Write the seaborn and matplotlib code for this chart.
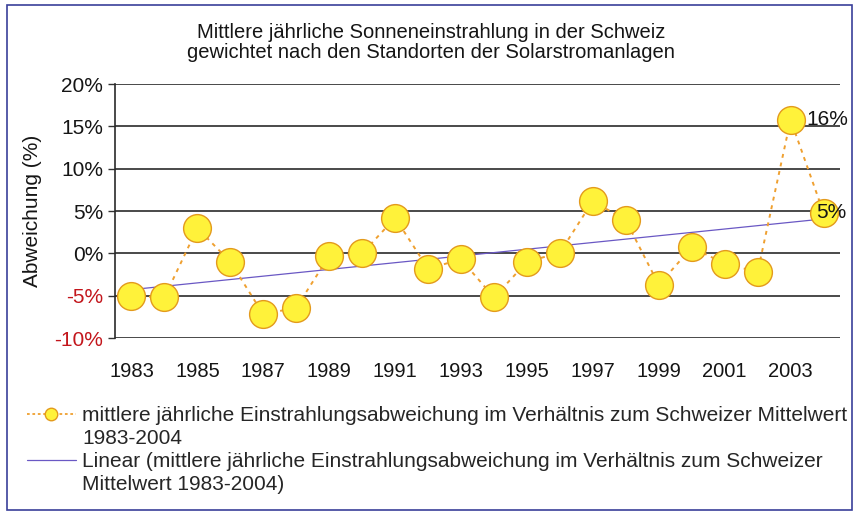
import numpy as np
import pandas as pd
import matplotlib
matplotlib.use("Agg")
import matplotlib.pyplot as plt
import seaborn as sns
from matplotlib.lines import Line2D
from matplotlib.patches import Rectangle

# Jahreswerte (Abweichung in %)
years = list(range(1983, 2005))
deviation = [-5.0, -5.2, 3.0, -1.0, -7.2, -6.4, -0.3, 0.0, 4.2, -1.8, -0.7,
             -5.2, -1.0, 0.1, 6.2, 3.9, -3.7, 0.7, -1.2, -2.2, 15.8, 4.8]
yticks = [-10, -5, 0, 5, 10, 15, 20]
xticks = list(range(1983, 2004, 2))
labels_end = {2003: "16%", 2004: "5%"}

title_1 = "Mittlere jährliche Sonneneinstrahlung in der Schweiz"
title_2 = "gewichtet nach den Standorten der Solarstromanlagen"
# Legendentexte, zeilenweise (wie im Original umbrochen)
lbl_series = ["mittlere jährliche Einstrahlungsabweichung im Verhältnis zum Schweizer Mittelwert",
              "1983-2004"]
lbl_trend = ["Linear (mittlere jährliche Einstrahlungsabweichung im Verhältnis zum Schweizer",
             "Mittelwert 1983-2004)"]

df = pd.DataFrame({"Jahr": years, "Abweichung": deviation})

sns.set_style("white")
plt.rcParams['font.family'] = ['Liberation Sans', 'DejaVu Sans']

fig = plt.figure(figsize=(8.55, 5.13), dpi=100)
ax = fig.add_axes([0.1345, 0.341, 0.848, 0.495])

orange = "#EFA030"
yellow = "#FFF23A"
purple = "#6A58C4"
txt = "#151515"

# Trendlinie (lineare Regression)
sns.regplot(data=df, x="Jahr", y="Abweichung", scatter=False, ci=None,
            line_kws=dict(color=purple, lw=0.9, zorder=2), ax=ax)

# Datenreihe
ax.plot(df["Jahr"], df["Abweichung"], color=orange, lw=1.4,
        linestyle=(0, (2, 2.5)), zorder=3)
ax.plot(df["Jahr"], df["Abweichung"], linestyle="none", marker="o",
        markersize=20, markerfacecolor=yellow, markeredgecolor="#E39A1C",
        markeredgewidth=1.0, zorder=4)

# Datenbeschriftungen (Versatz in Pixeln)
label_shift = {2003: 16, 2004: -7}
for yr, lab in labels_end.items():
    val = df.loc[df["Jahr"] == yr, "Abweichung"].iloc[0]
    ax.annotate(lab, xy=(yr, val), xytext=(label_shift[yr] * 0.72, 0),
                textcoords="offset points", fontsize=15, ha="left",
                va="center", color=txt, zorder=5, annotation_clip=False)

ax.set_xlim(1982.5, 2004.5)
ax.set_ylim(-10, 20)
ax.set_yticks(yticks)
ax.set_yticklabels([f"{t}%" for t in yticks], fontsize=15)
for t, lab in zip(yticks, ax.get_yticklabels()):
    lab.set_color("#C3161C" if t < 0 else txt)
ax.set_xticks(xticks)
ax.set_xticklabels([str(x) for x in xticks], fontsize=14.5, color=txt)
ax.tick_params(axis="y", length=5, width=1, color="#333333", pad=3.5, left=True)
ax.tick_params(axis="x", length=0, pad=17)

for t in yticks:
    ax.axhline(t, color="#2a2a2a", lw=1.2, zorder=1)

for s in ["top", "right", "bottom"]:
    ax.spines[s].set_visible(False)
ax.spines["left"].set_color("#2a2a2a")
ax.spines["left"].set_linewidth(1.2)

ax.set_xlabel("")
ax.set_ylabel("Abweichung (%)", fontsize=15, color=txt, labelpad=9)

fig.text(0.504, 1 - 38 / 513, title_1, ha="center", va="baseline",
         fontsize=14.5, color=txt)
fig.text(0.504, 1 - 57.5 / 513, title_2, ha="center", va="baseline",
         fontsize=14.5, color=txt)

blank = Line2D([], [], linestyle="none")
handles = [
    Line2D([], [], color=orange, lw=1.3, linestyle=(0, (1.5, 1.5)), marker="o",
           markersize=9, markerfacecolor=yellow, markeredgecolor="#E39A1C"),
    blank,
    Line2D([], [], color=purple, lw=0.9),
    blank,
]
fig.legend(handles, lbl_series + lbl_trend, loc="upper left",
           bbox_to_anchor=(27 / 855, 1 - 406 / 513), frameon=False,
           fontsize=15, handlelength=2.35, handletextpad=0.3,
           labelspacing=0.2, borderaxespad=0, borderpad=0)

fig.patches.append(Rectangle((7 / 855, 3 / 513), 845 / 855, 505 / 513,
                             transform=fig.transFigure, fill=False,
                             edgecolor="#3A3F9A", lw=1.2))

fig.savefig("out.png", dpi=100)
